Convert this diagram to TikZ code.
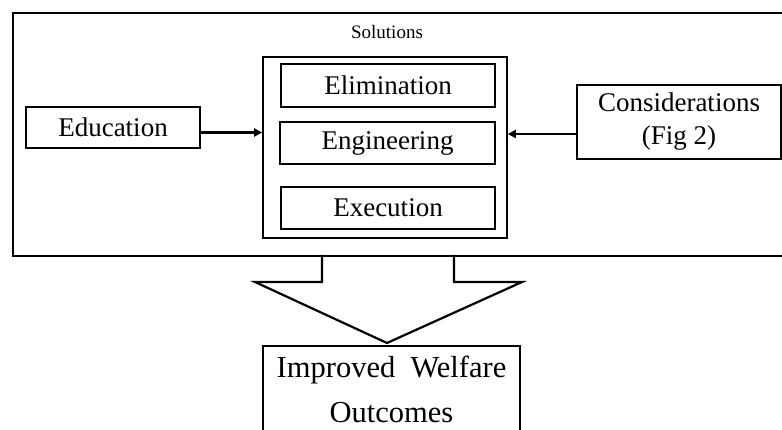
\documentclass[tikz,border=0pt]{standalone}
\usepackage{fontspec}
\setmainfont{Liberation Serif}
\usetikzlibrary{arrows.meta}
\begin{document}
\begin{tikzpicture}[x=1pt,y=-1pt,
  box/.style={draw, line width=#1, inner sep=0pt, align=center},
  box/.default=2.5pt,
  conn/.style={line width=2.5pt, -{Triangle[length=8pt,width=8pt]}},
  txt27/.style={font=\fontsize{27}{33}\selectfont},
  txt31/.style={font=\fontsize{30.5}{45}\selectfont}]
\useasboundingbox (0,0) rectangle (782,430);
% outer frame
\node[box=1.6pt, minimum width=790pt, minimum height=243pt, anchor=north west] (outer) at (12,12) {};
\node[font=\fontsize{19}{22}\selectfont] (sol) at (387,32) {Solutions};
% solutions box
\node[box=1.6pt, minimum width=244pt, minimum height=181pt] (big) at (385,147.5) {};
\node[box=2.5pt, txt27, minimum width=214pt, minimum height=43pt] (elim) at (388,85.5) {Elimination};
\node[box=2.5pt, txt27, minimum width=215pt, minimum height=42pt] (eng) at (387.5,143) {Engineering};
\node[box=2.5pt, txt27, minimum width=214pt, minimum height=42pt] (exec) at (388,208) {Execution};
% side boxes
\node[box, txt27, minimum width=174pt, minimum height=41pt] (edu) at (113,127.5) {Education};
\node[box, txt27, minimum width=204pt, minimum height=74pt] (cons) at (679,122) {Considerations\\(Fig 2)};
\draw[conn] ([yshift=-5pt]edu.east) -- ([yshift=-5pt]edu.east -| big.west);
\draw[conn] ([yshift=-12pt]cons.west) -- ([yshift=-12pt]cons.west -| big.east);
% block arrow
\coordinate (sl) at (322,255);
\coordinate (sr) at (454,255);
\coordinate (tip) at (387,343);
\draw[line width=2.2pt, line join=miter] (sl) -- (322,282) -- (255,282) -- (tip) -- (522,282) -- (454,282) -- (sr);
% outcome
\node[box, minimum width=257pt, minimum height=110pt, anchor=north] (imp) at (391.5,345) {};
\node[txt31, align=center, anchor=north] (imptxt) at (391.5,352) {Improved\ \ Welfare\\Outcomes};
\end{tikzpicture}
\end{document}
